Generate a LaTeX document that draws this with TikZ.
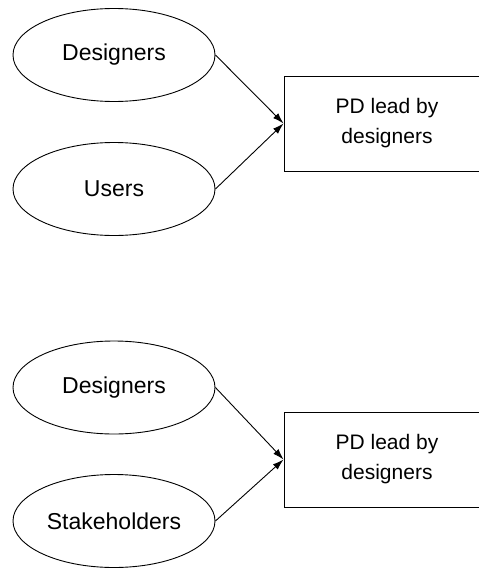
\documentclass[tikz,border=0pt]{standalone}
\usepackage{fontspec}
\setmainfont{Liberation Sans}
\usetikzlibrary{shapes.geometric,arrows.meta}
\tikzset{
  role/.style={draw,ellipse,line width=0.9pt,minimum width=202pt,minimum height=93pt,inner sep=0pt,font=\fontsize{23}{27}\selectfont},
  pdbox/.style={draw,rectangle,line width=0.9pt,minimum width=206pt,minimum height=95pt,align=center,font=\fontsize{21}{30}\selectfont},
  link/.style={->,line width=0.9pt}
}

\begin{document}
\begin{tikzpicture}[x=1pt,y=-1pt,>={Latex[length=11pt,width=7pt]}]
\useasboundingbox (0,0) rectangle (479,570);
% designers and users
\node[role] (des1) at (114,55) {Designers};
\node[role] (usr) at (114,189) {Users};
\node[pdbox] (pd1) at (387,123.5) {PD lead by\\designers};
\draw[link] (des1.east)--(pd1.west);
\draw[link] (usr.east)--(pd1.west);
% designers and stakeholders
\node[role] (des2) at (114,387.5) {Designers};
\node[role] (stk) at (114,521) {Stakeholders};
\node[pdbox] (pd2) at (387,459.5) {PD lead by\\designers};
\draw[link] (des2.east)--(pd2.west);
\draw[link] (stk.east)--(pd2.west);
\end{tikzpicture}
\end{document}
